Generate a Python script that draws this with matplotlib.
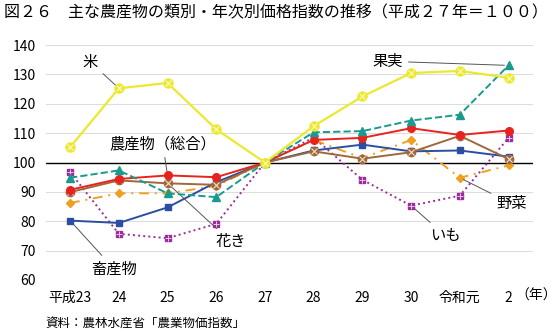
import numpy as np
import matplotlib.pyplot as plt

plt.rcParams['font.family'] = ['Noto Sans CJK JP', 'DejaVu Sans']

# 年次
years = ['平成23', '24', '25', '26', '27', '28', '29', '30', '令和元', '2']

# 価格指数 (平成27年=100)
kome = [105.2, 125.3, 127.1, 111.3, 100, 112.4, 122.5, 130.5, 131.2, 128.9]
kajitsu = [94.8, 97.3, 89.5, 88.2, 100, 110.3, 110.7, 114.3, 116.3, 133.1]
sogo = [90.7, 94.4, 95.6, 95.0, 100, 107.7, 108.4, 111.7, 109.4, 110.9]
kaki = [89.9, 93.9, 92.9, 92.4, 100, 103.8, 101.3, 103.5, 109.1, 101.2]
chikusan = [80.2, 79.4, 84.7, 93.3, 100, 104.1, 106.1, 103.8, 104.1, 102.0]
yasai = [86.2, 89.5, 89.5, 92.0, 100, 107.7, 101.5, 107.7, 94.8, 99.0]
imo = [96.7, 75.7, 74.2, 79.1, 100, 108.5, 94.1, 85.3, 88.7, 108.4]

x = np.arange(len(years))

fig = plt.figure(figsize=(5.58, 3.32), dpi=100)
ax = fig.add_axes([0.082, 0.157, 0.873, 0.707])

# グリッド
for v in range(60, 141, 10):
    ax.axhline(v, color='#dddddd', lw=0.8, zorder=0)
ax.axhline(100, color='black', lw=1.0, zorder=1)

# 各系列
ax.plot(x, imo, ':', color='#9b2c9b', lw=1.4, marker='s', ms=5, zorder=3)
ax.plot(x, imo, 'none', marker='+', ms=4, mec='#e8c8e8', mew=0.7, zorder=3)
ax.plot(x, yasai, '-.', color='#f0a020', lw=1.4, marker='D', ms=4, zorder=3,
        dashes=(5, 3, 1, 3))
ax.plot(x, chikusan, '-', color='#2a4fa0', lw=1.4, marker='s', ms=5, zorder=4)
ax.plot(x, kaki, '-', color='#a0683a', lw=1.4, marker='o', ms=6, zorder=4)
ax.plot(x, kaki, 'none', marker='x', ms=4, mec='#f0e0d0', mew=0.8, zorder=4)
ax.plot(x, sogo, '-', color='#e8231e', lw=1.4, marker='o', ms=5.5, zorder=5)
ax.plot(x, kajitsu, '--', color='#1a9a8f', lw=1.4, marker='^', ms=6, zorder=5)
ax.plot(x, kome, '-', color='#ece82c', lw=1.6, marker='o', ms=6.5, zorder=6)
ax.plot(x, kome, 'none', marker='x', ms=4, mec='#fbf8c8', mew=0.8, zorder=6)

ax.set_xlim(-0.5, 9.5)
ax.set_ylim(60, 140)
ax.set_xticks(x)
ax.set_xticklabels(years, fontsize=10)
ax.set_yticks(range(60, 141, 10))
ax.tick_params(axis='y', labelsize=10, length=0, pad=7)
ax.tick_params(axis='x', length=0, pad=8)
for s in ax.spines.values():
    s.set_visible(False)

# 系列名と引出線
lp = dict(arrowstyle='-', color='#555555', lw=0.7, shrinkA=2, shrinkB=3)
fs = 11
ax.annotate('米', xy=(1, kome[1]), xytext=(0.42, 134.2), fontsize=fs,
            ha='center', va='center', arrowprops=lp)
ax.annotate('果実', xy=(9, kajitsu[9]), xytext=(6.52, 134.5), fontsize=fs,
            ha='center', va='center', arrowprops=lp)
ax.annotate('農産物（総合）', xy=(2, sogo[2]), xytext=(1.9, 106.5), fontsize=fs,
            ha='center', va='center', arrowprops=lp)
ax.annotate('花き', xy=(2, kaki[2]), xytext=(3.3, 73), fontsize=fs,
            ha='center', va='center', arrowprops=lp)
ax.annotate('畜産物', xy=(0, chikusan[0]), xytext=(0.9, 63.8), fontsize=fs,
            ha='center', va='center', arrowprops=lp)
ax.annotate('野菜', xy=(8, yasai[8]), xytext=(9.06, 86), fontsize=fs,
            ha='center', va='center', arrowprops=lp)
ax.annotate('いも', xy=(7, imo[7]), xytext=(7.7, 75.1), fontsize=fs,
            ha='center', va='center', arrowprops=lp)

fig.text(0.008, 0.962, '図２６　主な農産物の類別・年次別価格指数の推移（平成２７年＝１００）',
         fontsize=11.5, va='center', ha='left')
fig.text(0.998, 0.108, '（年）', fontsize=10, va='center', ha='right')
fig.text(0.082, 0.025, '資料：農林水産省「農業物価指数」', fontsize=9, va='center', ha='left')

fig.savefig('out.png', dpi=100)
